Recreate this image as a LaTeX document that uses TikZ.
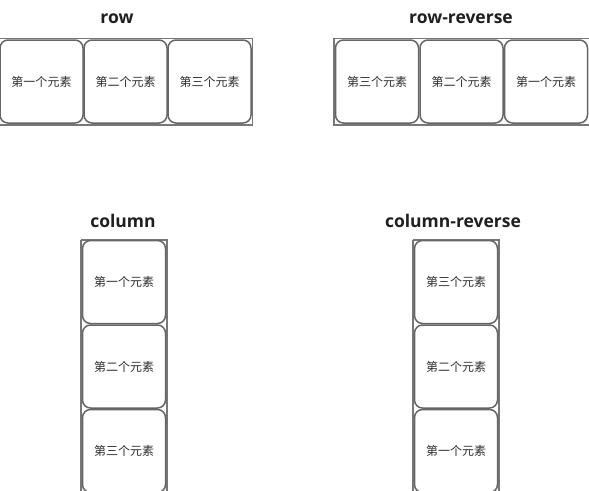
\documentclass[tikz,border=0pt]{standalone}
\usepackage{fontspec}
\setmainfont{Open Sans}
\newfontfamily\cjk{Noto Sans CJK SC}
\definecolor{boxgray}{HTML}{666666}
\definecolor{outergray}{HTML}{777777}
\definecolor{txt}{HTML}{2E2E2E}
\begin{document}
\begin{tikzpicture}[x=1pt,y=-1pt,
  item/.style={draw=boxgray,line width=1.5pt,fill=white,rounded corners=8pt,minimum width=83pt,minimum height=83pt,inner sep=0pt,font=\cjk\fontsize{12}{13}\selectfont,text=txt},
  outer/.style={draw=outergray,line width=1.8pt},
  title/.style={font=\bfseries\fontsize{17.5}{19}\selectfont,text=black!88}]
\useasboundingbox (0,0) rectangle (589,490);
% row
\node[title] (t1) at (117,18.5) {row};
\draw[outer] (-1,38.5) rectangle (252.5,125) coordinate (o1);
\node[item] (r1) at (41.5,81.5) {第一个元素};
\node[item] (r2) at (125.5,81.5) {第二个元素};
\node[item] (r3) at (209.5,81.5) {第三个元素};
% row-reverse
\node[title] (t2) at (461,18.5) {row-reverse};
\draw[outer] (334,38.5) rectangle (589.5,125) coordinate (o2);
\node[item] (rr3) at (377,81.5) {第三个元素};
\node[item] (rr2) at (461.5,81.5) {第二个元素};
\node[item] (rr1) at (546,81.5) {第一个元素};
% column
\node[title] (t3) at (123,221) {column};
\draw[outer] (81,240) -- (81,492) (81,240) -- (167,240) -- (167,492);
\node[item] (c1) at (124,282) {第一个元素};
\node[item] (c2) at (124,366.5) {第二个元素};
\node[item] (c3) at (124,451) {第三个元素};
% column-reverse
\node[title] (t4) at (453,221) {column-reverse};
\draw[outer] (413,240) -- (413,492) (413,240) -- (499,240) -- (499,492);
\node[item] (cr3) at (456,282) {第三个元素};
\node[item] (cr2) at (456,366.5) {第二个元素};
\node[item] (cr1) at (456,451) {第一个元素};
\end{tikzpicture}
\end{document}
